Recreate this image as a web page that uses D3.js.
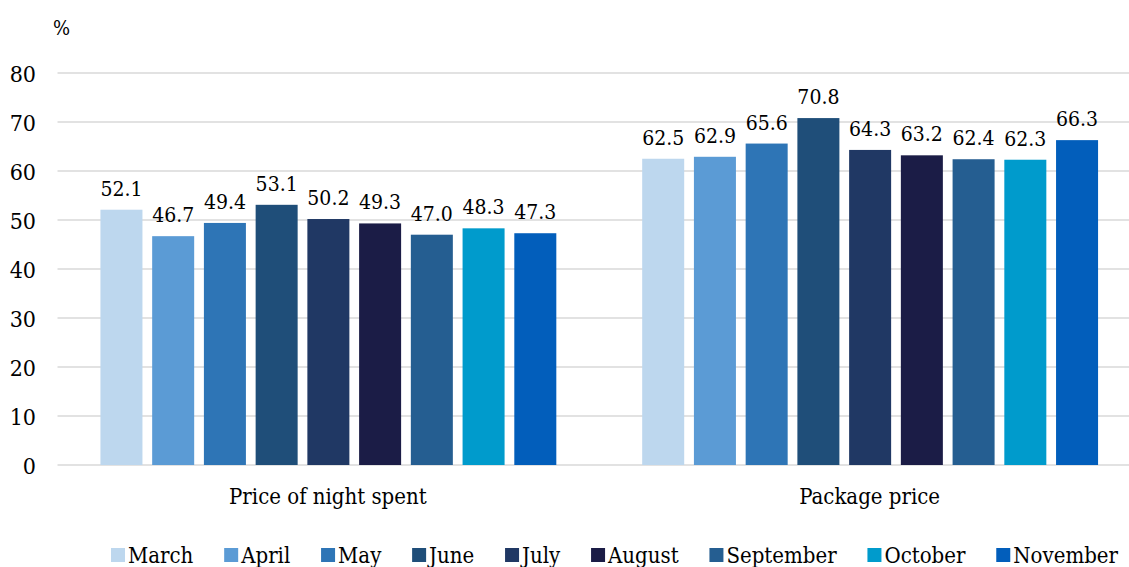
<!DOCTYPE html>
<html>
<head>
<meta charset="utf-8">
<script src="https://cdn.jsdelivr.net/npm/d3@7"></script>
<style>
  body { margin: 0; background: #fff; }
</style>
</head>
<body>
<svg id="chart"></svg>
<script>
const groups = ["Price of night spent", "Package price"];
const months = ["March", "April", "May", "June", "July", "August", "September", "October", "November"];
const nightValues = [52.1, 46.7, 49.4, 53.1, 50.2, 49.3, 47.0, 48.3, 47.3];
const packageValues = [62.5, 62.9, 65.6, 70.8, 64.3, 63.2, 62.4, 62.3, 66.3];
const monthColors = ["#bdd7ee", "#5b9bd5", "#2e75b6", "#1f4e79", "#203864", "#1b1c46", "#255e91", "#009bcc", "#025ebb"];
const yTicks = [0, 10, 20, 30, 40, 50, 60, 70, 80];

const width = 1129;
const height = 567;
const serif = "DejaVu Serif Condensed, DejaVu Serif, serif";

const data = groups.map((g, i) => ({
  group: g,
  values: (i === 0 ? nightValues : packageValues).map((v, j) => ({ month: months[j], value: v }))
}));

const svg = d3.select("#chart")
  .attr("width", width)
  .attr("height", height)
  .attr("font-family", serif);

// scales
const x0 = d3.scaleBand().domain(groups).range([57.5, 1141]);
const x1 = d3.scaleBand().domain(months).range([0, x0.bandwidth()])
  .paddingInner(0.188).paddingOuter(0.83);
const y = d3.scaleLinear().domain([0, 80]).range([465, 73]);
const color = d3.scaleOrdinal().domain(months).range(monthColors);

// gridlines
svg.append("g")
  .selectAll("line")
  .data(yTicks)
  .enter()
  .append("line")
  .attr("x1", 57.5)
  .attr("x2", width)
  .attr("y1", d => y(d))
  .attr("y2", d => y(d))
  .attr("stroke", "#d9d9d9")
  .attr("stroke-width", 1.5);

// y axis labels
const yAxis = svg.append("g")
  .attr("transform", "translate(36,0)")
  .call(d3.axisLeft(y).tickValues(yTicks).tickSize(0).tickPadding(0));
yAxis.attr("font-family", serif).attr("font-size", 23);
yAxis.select(".domain").remove();
yAxis.selectAll("text")
  .attr("fill", "#000")
  .attr("dy", "0.36em");

svg.append("text")
  .attr("x", 53)
  .attr("y", 35)
  .attr("font-size", 20)
  .text("%");

// bars
const groupG = svg.selectAll(".group")
  .data(data)
  .enter()
  .append("g")
  .attr("class", "group")
  .attr("transform", d => `translate(${x0(d.group)},0)`);

groupG.selectAll("rect")
  .data(d => d.values)
  .enter()
  .append("rect")
  .attr("x", d => x1(d.month))
  .attr("y", d => y(d.value))
  .attr("width", x1.bandwidth())
  .attr("height", d => y(0) - y(d.value))
  .attr("fill", d => color(d.month));

groupG.selectAll(".value")
  .data(d => d.values)
  .enter()
  .append("text")
  .attr("class", "value")
  .attr("x", d => x1(d.month) + x1.bandwidth() / 2)
  .attr("y", d => y(d.value) - 14)
  .attr("text-anchor", "middle")
  .attr("font-size", 21)
  .text(d => d.value.toFixed(1));

// category labels
svg.append("g")
  .selectAll("text")
  .data(groups)
  .enter()
  .append("text")
  .attr("x", d => x0(d) + x0.bandwidth() / 2 - 0.5)
  .attr("y", 504)
  .attr("text-anchor", "middle")
  .attr("font-size", 22)
  .text(d => d);

// legend: items spread between the first square and the right edge of "November"
const legendLeft = 111;
const legendRight = 1118;
const legend = svg.append("g").attr("transform", `translate(${legendLeft},0)`);
const items = months.map(m => {
  const item = legend.append("g");
  item.append("rect")
    .attr("x", 0)
    .attr("y", 548)
    .attr("width", 14)
    .attr("height", 14)
    .attr("fill", color(m));
  const t = item.append("text")
    .attr("x", 17)
    .attr("y", 563)
    .attr("font-size", 22)
    .text(m);
  return { item, w: 17 + t.node().getComputedTextLength() };
});
const gap = (legendRight - legendLeft - d3.sum(items, d => d.w)) / (items.length - 1);
let lx = 0;
items.forEach(d => {
  d.item.attr("transform", `translate(${lx},0)`);
  lx += d.w + gap;
});
</script>
</body>
</html>
